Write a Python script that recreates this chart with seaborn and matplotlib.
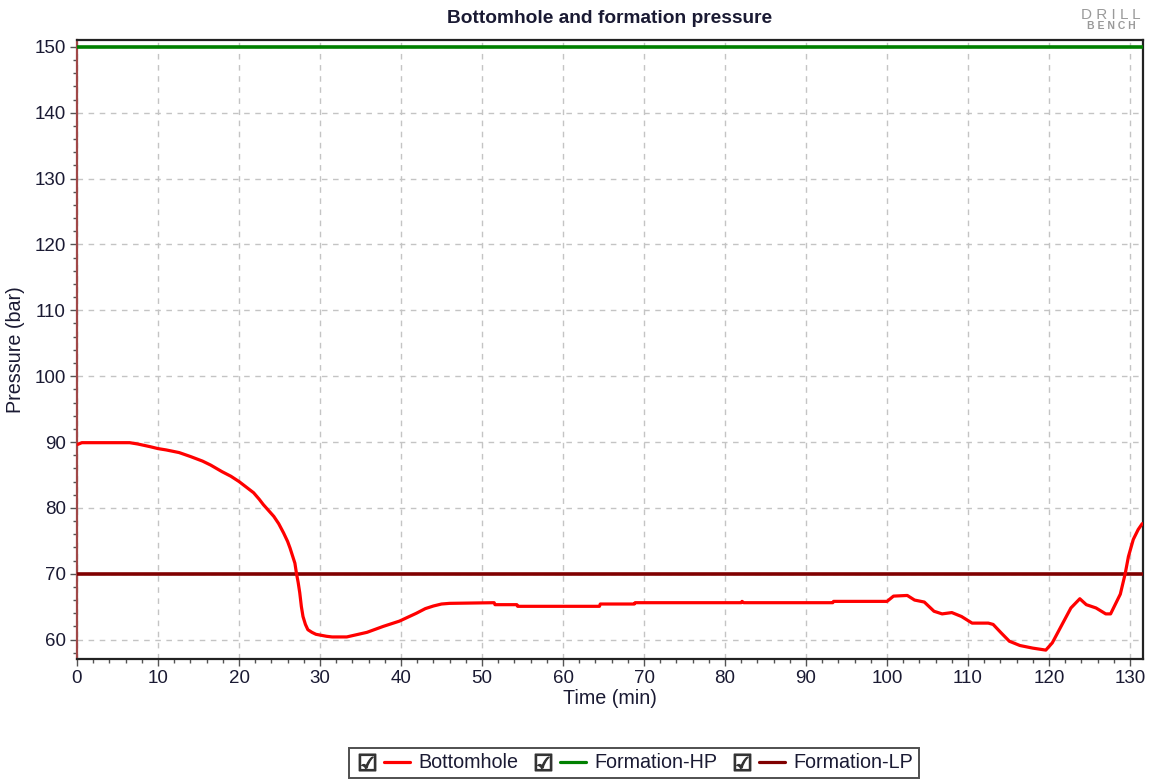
import seaborn as sns
import matplotlib.pyplot as plt
import pandas as pd
from matplotlib.lines import Line2D
from matplotlib.legend_handler import HandlerTuple
from matplotlib.ticker import MultipleLocator

# Bottomhole pressure
time_min = [0, 0.6, 3, 5, 6.5, 7.5, 9, 10, 11, 12.6, 14, 15.5, 16.5, 17.9, 19, 20, 21.8,
            22.5, 23, 24.3, 24.9, 25.5, 26.0, 26.3, 26.9, 27.1, 27.3, 27.5, 27.7, 27.9,
            28.2, 28.5, 29.0, 29.5, 30.8, 31.5, 33.3, 35.8, 37.8, 39.8, 41.9, 43.0, 44.0,
            45.0, 46.0, 51.5, 51.6, 54.3, 54.4, 64.5, 64.6, 68.8, 68.9, 82.0, 82.1, 82.3,
            93.3, 93.4, 100.0, 100.8, 102.5, 103.4, 104.6, 105.8, 106.8, 108.0, 109.2,
            110.5, 112.5, 113.1, 114.1, 115.1, 116.4, 118.0, 119.6, 120.4, 121.7, 122.7,
            123.8, 124.6, 125.8, 127.0, 127.6, 128.8, 129.4, 129.8, 130.4, 131.0, 131.5]
bottomhole = [89.6, 89.9, 89.9, 89.9, 89.9, 89.7, 89.3, 89.0, 88.8, 88.4, 87.8, 87.1, 86.5,
              85.5, 84.8, 84.0, 82.3, 81.3, 80.5, 78.7, 77.6, 76.2, 74.9, 73.9, 71.6, 70.0,
              68.7, 67.1, 65.0, 63.5, 62.3, 61.5, 61.1, 60.8, 60.5, 60.4, 60.4, 61.1, 62.0,
              62.8, 64.0, 64.7, 65.1, 65.4, 65.5, 65.6, 65.3, 65.3, 65.05, 65.05, 65.4, 65.4,
              65.6, 65.6, 65.8, 65.6, 65.6, 65.8, 65.8, 66.6, 66.7, 66.0, 65.7, 64.3, 63.9,
              64.1, 63.5, 62.5, 62.5, 62.3, 61.0, 59.75, 59.1, 58.7, 58.4, 59.5, 62.5, 64.8,
              66.2, 65.3, 64.8, 63.9, 63.9, 66.9, 70.0, 72.6, 75.2, 76.7, 77.6]

formation_time = [0, 131.6]
formation_hp = [150, 150]
formation_lp = [70, 70]

series_names = ['Bottomhole', 'Formation-HP', 'Formation-LP']
series_colors = ['#ff0000', '#008000', '#800000']

sns.set_style('white')
plt.rcParams['font.family'] = ['Liberation Sans', 'DejaVu Sans']
txt = '#1a1a33'

fig = plt.figure(figsize=(11.51, 7.82), dpi=100)
ax = fig.add_axes([77 / 1151, 1 - 659 / 782, (1143 - 77) / 1151, (659 - 40) / 782])

bh = pd.DataFrame({'t': time_min, 'p': bottomhole})
fm = pd.DataFrame({'t': formation_time, 'hp': formation_hp, 'lp': formation_lp})

sns.lineplot(data=fm, x='t', y='hp', color=series_colors[1], lw=2.6, ax=ax, zorder=3)
sns.lineplot(data=fm, x='t', y='lp', color=series_colors[2], lw=2.6, ax=ax, zorder=3)
sns.lineplot(data=bh, x='t', y='p', color=series_colors[0], lw=2.3, ax=ax,
             estimator=None, zorder=4)

ax.set_xlim(0, 131.6)
ax.set_ylim(57.05, 151.05)
ax.xaxis.set_major_locator(MultipleLocator(10))
ax.xaxis.set_minor_locator(MultipleLocator(2))
ax.yaxis.set_major_locator(MultipleLocator(10))
ax.yaxis.set_minor_locator(MultipleLocator(2))
ax.grid(True, which='major', color='#c4c4c4', linestyle=(0, (4, 4)), lw=1.0)
ax.tick_params(which='major', direction='out', length=5, width=1, color='#555555',
               labelsize=13.5, labelcolor=txt, bottom=True, left=True, pad=3)
ax.tick_params(which='minor', direction='out', length=3, width=1, color='#555555',
               bottom=True, left=True)

for side in ['top', 'right', 'bottom']:
    ax.spines[side].set_color('#222222')
    ax.spines[side].set_linewidth(1.6)
ax.spines['left'].set_color('#a04848')
ax.spines['left'].set_linewidth(1.6)

ax.set_xlabel('Time (min)', fontsize=14.2, color=txt, labelpad=1)
ax.set_ylabel('Pressure (bar)', fontsize=14.2, color=txt, labelpad=7)
ax.set_title('Bottomhole and formation pressure', fontsize=13.8, fontweight='bold',
             color=txt, pad=12)

# logo in the top right corner
fig.text(1111 / 1151, 1 - 15 / 782, 'D R I L L', ha='center', va='center',
         fontsize=11, color='#9a9a9a')
fig.text(1111 / 1151, 1 - 26 / 782, 'B E N C H', ha='center', va='center',
         fontsize=7.5, color='#9a9a9a', fontweight='bold')

# legend with a checkbox in front of each line
handles = []
for c in series_colors:
    box = Line2D([], [], marker='$\u2611$', markersize=12, color='#333333', linestyle='none')
    line = Line2D([], [], color=c, lw=2.3)
    handles.append((box, line))
leg = fig.legend(handles, series_names, loc='center', bbox_to_anchor=(634 / 1151, 1 - 763 / 782),
                 ncol=3, frameon=True, fancybox=False, edgecolor='#222222', fontsize=14.2,
                 handler_map={tuple: HandlerTuple(ndivide=None, pad=0.2)},
                 handlelength=2.8, handletextpad=0.45, columnspacing=0.6, borderpad=0.3)
leg.get_frame().set_linewidth(1.4)
for t in leg.get_texts():
    t.set_color(txt)

fig.savefig('out.png', dpi=100)
